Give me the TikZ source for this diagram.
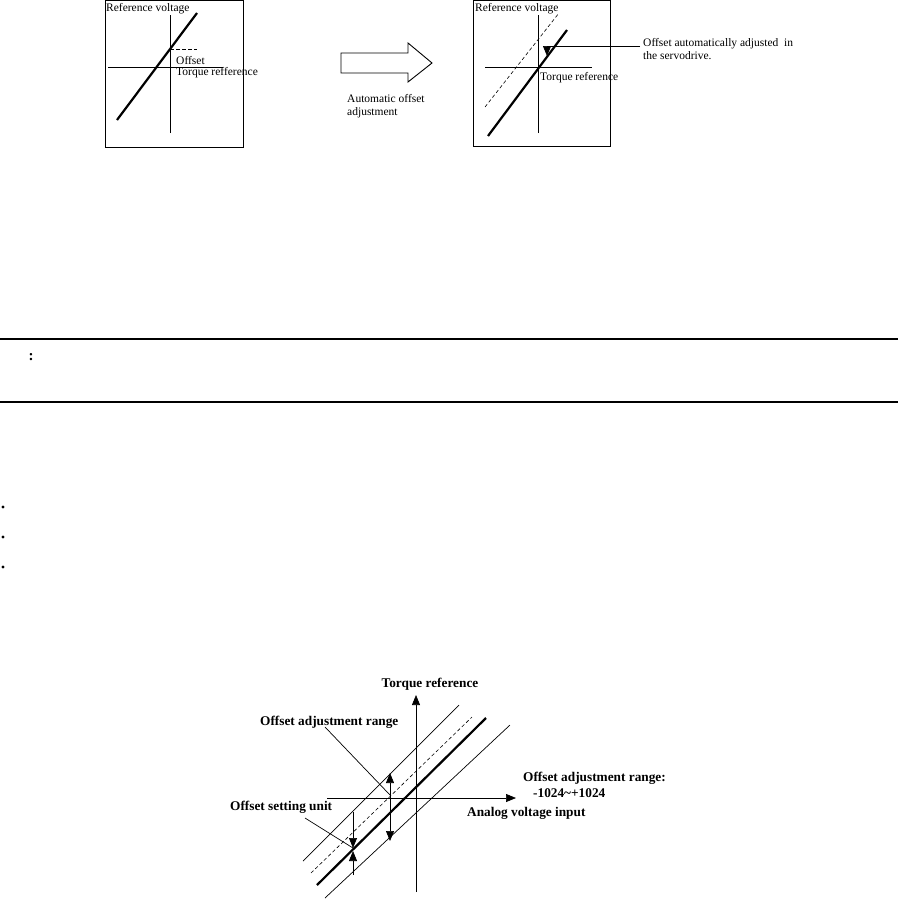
\documentclass[tikz,border=0pt]{standalone}
\usepackage{fontspec}
\setmainfont{Liberation Serif}
\usetikzlibrary{arrows.meta}

\begin{document}
\begin{tikzpicture}[
    x=1pt, y=-1pt,
    frame/.style={draw=black, line width=0.9pt},
    axis/.style={draw=black, line width=0.7pt},
    curve/.style={draw=black, line width=2.2pt},
    thinline/.style={draw=black, line width=0.7pt},
    dashline/.style={draw=black, line width=0.6pt, dash pattern=on 3.5pt off 2.5pt},
    rulebar/.style={draw=black, line width=2.8pt},
    lbl/.style={font=\fontsize{11.5}{13}\selectfont, inner sep=0pt, anchor=west, align=left},
    blbl/.style={font=\fontsize{13.3}{15}\selectfont\bfseries, inner sep=0pt, anchor=west},
    tip/.style={-{Triangle[length=10pt, width=8pt]}, line width=0.7pt},
    twotip/.style={{Triangle[length=10pt, width=8pt]}-{Triangle[length=10pt, width=8pt]}, line width=0.7pt},
]
\useasboundingbox (0,0) rectangle (898,902);

% === LEFT GRAPH (before adjustment) ===
\draw[frame] (105,0.5) rectangle (243,147);
\coordinate (la-top) at (170,15);
\coordinate (la-bot) at (170,133);
\coordinate (la-left) at (108,67);
\coordinate (la-right) at (223,67);
\draw[axis] (la-bot) -- (la-top);
\draw[axis] (la-left) -- (la-right);
\coordinate (lc-a) at (117,120);
\coordinate (lc-b) at (197,13);
\draw[curve] (lc-a) -- (lc-b);
\coordinate (loff) at (170,49);
\coordinate (loff-end) at (197,49);
\draw[dashline] (loff) -- (loff-end);
\node[lbl] (lrefv) at (106,9) {Reference voltage};
\node[lbl] (loffset) at (176,61) {Offset};
\node[lbl] (ltorque) at (176,73) {Torque refference};

% === BLOCK ARROW ===
\draw[frame] (341,53) -- (408,53) -- (408,43) -- (432,63) -- (408,82) -- (408,73) -- (341,73) -- cycle;
\node[lbl] (auto) at (347,106) {Automatic offset\\adjustment};

% === RIGHT GRAPH (after adjustment) ===
\draw[frame] (473,0.5) rectangle (610,146);
\coordinate (ra-top) at (538,15);
\coordinate (ra-bot) at (538,133);
\coordinate (ra-left) at (485,67);
\coordinate (ra-right) at (592,67);
\draw[axis] (ra-bot) -- (ra-top);
\draw[axis] (ra-left) -- (ra-right);
\coordinate (rd-a) at (485,107);
\coordinate (rd-b) at (559,13);
\draw[dashline] (rd-a) -- (rd-b);
\coordinate (rc-a) at (488,136);
\coordinate (rc-b) at (567,30);
\draw[curve] (rc-a) -- (rc-b);
\node[lbl] (rrefv) at (475,9) {Reference voltage};
\node[lbl] (rtorque) at (540,78) {Torque reference};
\node[lbl] (rnote) at (643,49.5) {Offset automatically adjusted\ \ in\\the servodrive.};
\coordinate (rlead) at (640,46);
\coordinate (rbend) at (547,46);
\coordinate (rhit) at (547,56);
\draw[tip] (rlead) -- (rbend) -- (rhit);

% === NOTE RULES ===
\coordinate (r1-a) at (0,339);
\coordinate (r1-b) at (898,339);
\coordinate (r2-a) at (0,402);
\coordinate (r2-b) at (898,402);
\draw[rulebar] (r1-a) -- (r1-b);
\draw[rulebar] (r2-a) -- (r2-b);
\node[font=\fontsize{15}{17}\selectfont\bfseries, inner sep=0pt] (colon) at (31,357) {:};

% bullets
\foreach \yy in {507,537,567}
    \fill (3,\yy) circle (1.7);

% === BOTTOM GRAPH (adjustment range) ===
\coordinate (bx-l) at (327,798);
\coordinate (bx-r) at (516,798);
\coordinate (by-b) at (416,892);
\coordinate (by-t) at (416,695);
\draw[tip] (bx-l) -- (bx-r);
\draw[tip] (by-b) -- (by-t);

% offset lines
\coordinate (up-a) at (303,861);
\coordinate (up-b) at (459,705);
\coordinate (ds-a) at (311,873);
\coordinate (ds-b) at (472,717);
\coordinate (tk-a) at (317,885);
\coordinate (tk-b) at (486,718);
\coordinate (lo-a) at (325,898);
\coordinate (lo-b) at (510,725);
\draw[thinline] (up-a) -- (up-b);
\draw[dashline] (ds-a) -- (ds-b);
\draw[curve] (tk-a) -- (tk-b);
\draw[thinline] (lo-a) -- (lo-b);

% range arrow
\coordinate (rg-t) at (390,773);
\coordinate (rg-b) at (390,841);
\draw[twotip] (rg-b) -- (rg-t);

% unit arrows
\coordinate (un-t) at (353,812);
\coordinate (un-m1) at (353,848);
\coordinate (un-m2) at (353,851);
\coordinate (un-b) at (353,875);
\draw[tip] (un-t) -- (un-m1);
\draw[tip] (un-b) -- (un-m2);

% labels
\node[blbl, anchor=center] (torq) at (430,684) {Torque reference};
\node[blbl] (rangelbl) at (260,722) {Offset adjustment range};
\node[blbl] (unitlbl) at (230,807) {Offset setting unit};
\node[blbl] (rangeval) at (523,778) {Offset adjustment range:};
\node[blbl] (rangenum) at (533,793) {-1024\textasciitilde+1024};
\node[blbl] (analog) at (467,813) {Analog voltage input};

% leaders
\coordinate (rg-hit) at (390,795);
\coordinate (rg-lead) at (325,727);
\coordinate (un-lead) at (305,818);
\draw[thinline] (rg-lead) -- (rg-hit);
\draw[thinline] (un-lead) -- (un-m1);

\end{tikzpicture}
\end{document}
